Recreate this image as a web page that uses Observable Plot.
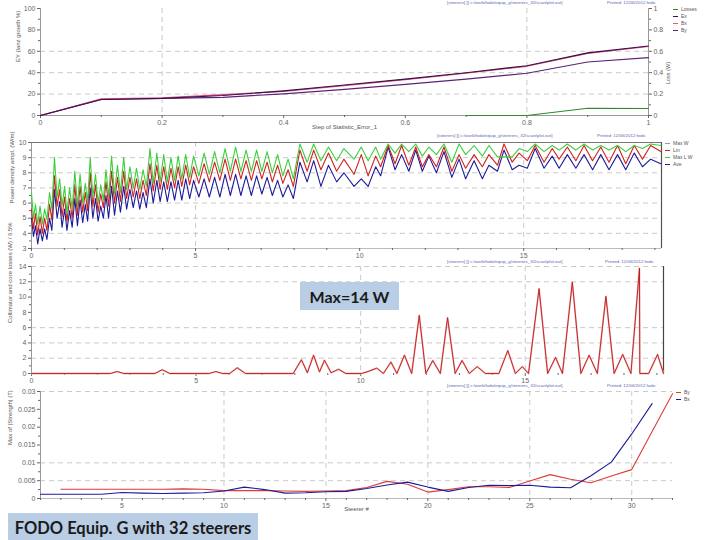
<!DOCTYPE html>
<html><head><meta charset="utf-8">
<script src="https://cdn.jsdelivr.net/npm/d3@7"></script>
<script src="https://cdn.jsdelivr.net/npm/@observablehq/plot@0.6"></script>
<style>
html,body{margin:0;padding:0;background:#fff;}
#c{position:relative;width:720px;height:540px;overflow:hidden;background:#fff;font-family:'Liberation Sans',Arial,sans-serif;}
#c svg{position:absolute;left:0;}
.hdr{position:absolute;font-size:4.4px;color:#5a66b0;white-space:nowrap;line-height:6px;}
.lg{position:absolute;font-size:5px;color:#555;white-space:nowrap;line-height:7px;}
.lg i{display:inline-block;width:5px;height:1.2px;vertical-align:middle;margin-right:3px;}
.box{position:absolute;background:#b9cde5;color:#1a1a1a;font-weight:bold;font-family:Lato,'Liberation Sans',sans-serif;display:flex;align-items:center;justify-content:center;white-space:nowrap;}
</style></head><body><div id="c"></div>
<script>
// ---------- Panel 1 data ----------
const p1X = [0, 0.1, 0.2, 0.3, 0.4, 0.5, 0.6, 0.7, 0.8, 0.9, 1];
const p1Ex = [0, 15, 16, 18.7, 23, 28.5, 34, 40, 46.5, 58.5, 65];
const p1Bx = [0, 15.5, 16.5, 19.5, 22.5, 28, 33.5, 39.5, 46, 58, 64.5];
const p1By = [0, 15, 16, 17, 20.3, 24.5, 29, 34, 39.5, 50, 54];
const p1LossX = [0.7, 0.8, 0.9, 1];
const p1Loss = [0, 0, 0.068, 0.065];
const p1YTicks = [0, 20, 40, 60, 80, 100];
const p1YMinor = [10, 30, 50, 70, 90];
const p1XTicks = [0, 0.2, 0.4, 0.6, 0.8, 1];
const p1XMinor = [0.1, 0.3, 0.5, 0.7, 0.9];
const p1GridY = [20, 40, 60];
const p1GridX = [0.2, 0.8];
const p1Legend = ["Losses", "Ex", "Bx", "By"];

// ---------- Panel 2 data ----------
const p2X = [
 0.00,0.06,0.12,0.19,0.26,0.33,0.40,0.47,0.55,0.62,
 0.70,0.78,0.86,0.93,1.01,1.08,1.16,1.24,1.32,1.40,
 1.48,1.56,1.64,1.71,1.79,1.87,1.95,2.03,2.11,2.19,
 2.27,2.35,2.44,2.53,2.62,2.71,2.81,2.90,3.00,3.10,
 3.20,3.30,3.40,3.50,3.61,3.71,3.82,3.92,4.03,4.14,
 4.25,4.36,4.47,4.58,4.70,4.82,4.94,5.10,5.26,5.42,
 5.58,5.74,5.90,6.06,6.22,6.38,6.54,6.70,6.86,7.02,
 7.18,7.34,7.50,7.66,7.82,7.98,8.18,8.40,8.60,8.82,
 9.05,9.30,9.52,9.83,10.05,10.26,10.49,10.64,10.87,11.08,
 11.28,11.50,11.71,11.91,12.11,12.34,12.57,12.81,13.03,13.23,
 13.49,13.74,13.94,14.20,14.40,14.65,14.86,15.11,15.35,15.62,
 15.87,16.08,16.33,16.59,16.84,17.10,17.35,17.60,17.86,18.11,
 18.37,18.62,18.87,19.18];
const p2MaxLW = [
 6.7,5.0,5.9,4.6,5.8,4.6,5.6,4.9,6.7,5.6,
 9.0,6.4,7.6,5.8,7.1,5.3,7.0,5.6,8.1,5.8,
 7.9,6.0,7.3,6.1,9.0,6.4,7.9,6.0,7.2,6.2,
 8.2,6.4,9.1,6.6,8.5,6.7,9.0,6.9,8.4,7.0,
 8.3,6.9,8.2,7.1,9.6,7.3,9.3,7.4,9.2,7.4,
 9.0,7.5,9.1,7.6,9.2,7.7,9.1,7.8,9.3,7.9,
 9.4,8.0,9.6,8.1,9.7,8.1,9.5,8.1,9.5,8.1,
 9.4,8.0,9.2,7.8,8.9,7.6,9.9,8.7,9.9,8.8,
 9.7,8.8,9.6,8.9,9.7,8.8,9.7,8.9,9.9,9.3,
 9.9,9.4,9.9,9.1,9.7,9.2,9.9,8.7,9.9,9.2,
 9.8,9.1,9.8,9.05,9.05,9.05,9.6,9.4,9.9,9.4,
 9.8,9.5,9.9,9.5,9.9,9.5,9.8,9.5,9.8,9.4,
 9.8,9.6,9.9,9.8];
const p2Lin = [
 5.6,4.3,5.3,3.9,5.1,4.0,5.0,4.2,5.9,4.9,
 7.8,5.8,6.9,5.1,6.4,4.8,6.3,5.0,7.2,5.2,
 7.1,5.4,6.7,5.5,8.0,5.8,7.2,5.4,6.6,5.7,
 7.4,5.8,8.1,6.0,7.7,6.1,8.1,6.3,7.7,6.4,
 7.6,6.3,7.5,6.5,8.6,6.8,8.5,6.9,8.4,6.9,
 8.3,7.0,8.4,7.1,8.5,7.2,8.4,7.3,8.6,7.4,
 8.7,7.5,8.9,7.5,8.9,7.6,8.8,7.5,8.8,7.6,
 8.7,7.4,8.5,7.3,8.2,7.1,9.5,8.1,9.5,8.2,
 9.3,8.1,8.9,7.9,9.2,7.8,9.1,8.4,9.8,8.6,
 9.8,8.5,9.7,8.4,9.2,8.4,9.7,8.1,9.2,8.3,
 9.2,8.4,9.2,8.5,9.9,8.7,9.3,8.8,9.8,8.7,
 9.6,8.9,9.7,8.8,9.8,8.8,9.7,8.7,9.8,8.6,
 9.8,8.9,9.8,9.4];
const p2Ave = [
 5.0,3.8,4.5,3.3,4.3,3.5,4.3,3.6,5.0,4.2,
 6.9,5.0,6.1,4.4,5.6,4.2,5.5,4.4,6.3,4.5,
 6.2,4.7,5.9,4.8,7.0,5.0,6.3,4.8,5.8,5.0,
 6.5,5.0,7.1,5.2,6.8,5.4,7.1,5.6,6.9,5.7,
 6.8,5.6,6.7,5.7,7.6,6.0,7.5,6.1,7.4,6.1,
 7.4,6.2,7.5,6.2,7.6,6.3,7.5,6.4,7.6,6.4,
 7.7,6.4,7.9,6.5,7.9,6.5,7.8,6.5,7.8,6.6,
 7.7,6.5,7.5,6.4,7.2,6.3,8.7,7.4,8.8,7.1,
 8.5,7.4,8.0,7.1,7.6,7.1,8.4,7.8,9.7,8.2,
 9.2,8.1,9.5,8.1,9.1,8.0,9.4,7.7,8.9,7.6,
 8.8,7.6,8.5,8.1,9.5,8.2,8.5,8.3,9.6,8.3,
 9.1,8.3,9.2,8.3,9.2,8.2,9.2,8.2,9.2,8.2,
 9.3,8.4,8.9,8.6];
const p2YTicks = [3, 4, 5, 6, 7, 8, 9, 10];
const p2YMinor = [3.5, 4.5, 5.5, 6.5, 7.5, 8.5, 9.5];
const p2XTicks = [0, 5, 10, 15];
const p2XMinor = [1, 2, 3, 4, 6, 7, 8, 9, 11, 12, 13, 14, 16, 17, 18, 19];
const p2GridY = [4, 5, 6, 7, 8, 9];
const p2GridX = [5, 15];
const p2Legend = ["Max W", "Lin", "Max L W", "Ave"];

// ---------- Panel 3 data ----------
const p3X = [0,2.4,2.6,2.8,3.75,3.97,4.2,5.4,5.6,5.8,6.02,6.25,6.5,
 7.95,8.2,8.38,8.57,8.75,8.9,9.1,9.33,9.55,
 10.03,10.25,10.49,10.69,10.92,11.10,11.33,11.55,11.78,11.98,
 12.19,12.42,12.64,12.87,13.08,13.30,13.54,13.79,
 14.2,14.47,14.70,14.91,15.10,15.42,15.68,15.92,16.13,16.43,
 16.69,16.94,17.19,17.45,17.70,17.96,18.21,18.47,18.48,18.75,
 19.02,19.2];
const p3Loss = [0,0,0.26,0,0,0.5,0,0,0.26,0,0,0.75,0,
 0,1.8,0.1,2.4,0.2,1.75,0.1,0.55,0,
 0,0.3,0.7,0,1.5,0,2.4,0,7.6,0,
 1.7,0,7.3,0,1.7,0,0.9,0,
 0,3.0,0,0.9,0,11.1,0,2.1,0,11.95,
 0,2.4,0,10.1,0,2.5,0,13.8,0,0,
 2.5,0];
const p3YTicks = [0, 2, 4, 6, 8, 10, 12, 14];
const p3YMinor = [1, 3, 5, 7, 9, 11, 13];
const p3GridY = [2, 4, 6, 12, 14];
const p3GridX = [10, 15];

// ---------- Panel 4 data ----------
const p4Steerer = [1,2,3,4,5,6,7,8,9,10,11,12,13,14,15,16,17,18,19,20,21,22,23,24,25,26,27,28,29,30,31,32];
const p4By = [null,0.0026,0.0026,0.0026,0.0026,0.0026,0.0026,0.0027,0.0026,0.0022,0.0022,0.0022,0.0021,0.0020,0.0021,0.0022,
 0.0031,0.0048,0.0040,0.0018,0.0025,0.0033,0.0033,0.0031,0.0049,0.0067,0.0054,0.0044,0.0063,0.0081,0.0188,0.0294];
const p4Bx = [0.0012,0.0012,0.0012,0.0012,0.0017,0.0015,0.0014,0.0015,0.0016,0.0021,0.0032,0.0025,0.0015,0.0016,0.0019,0.0020,
 0.0028,0.0038,0.0046,0.0032,0.0020,0.0031,0.0037,0.0036,0.0037,0.0032,0.0030,0.0064,0.0102,0.0181,0.0266,null];
const p4YTicks = [0, 0.005, 0.01, 0.015, 0.02, 0.025, 0.03];
const p4YMinor = [0.0025, 0.0075, 0.0125, 0.0175, 0.0225, 0.0275];
const p4XTicks = [5, 10, 15, 20, 25, 30];
const p4XMinor = [1,2,3,4,6,7,8,9,11,12,13,14,16,17,18,19,21,22,23,24,26,27,28,29,31,32];
const p4GridY = [0.005, 0.01, 0.03];
const p4GridX = [10, 15, 20, 25, 30];
const p4Legend = ["By", "Bx"];

// ---------- texts ----------
const hdrA = "[steerers] [] c:/work/fodo/equip_g/steerers_32/scan/plot.out]";
const hdrB = "Printed: 12/06/2012 fodo";
const caption = "FODO Equip. G with 32 steerers";
const maxNote = "Max=14 W";

// ---------- helpers ----------
const c = document.getElementById("c");
const FONT = "'Liberation Sans', Arial, sans-serif";
const STYLE = {background: "transparent", fontSize: "7px", fontFamily: FONT, color: "#666", overflow: "visible"};
const GRID = {stroke: "#bdbdbd", strokeOpacity: 1, strokeWidth: 0.8, strokeDasharray: "5,4"};
const AX = {color: "#666", tickSize: 3, tickPadding: 2, fontSize: 7, label: null};
const blank = () => "";
const fmt = d => String(+d.toFixed(4));
function rows(xs, ys) { return xs.map((x, i) => ({x, y: ys[i]})).filter(d => d.y != null); }
function put(svg, top) { svg.style.top = top + "px"; c.appendChild(svg); }
function lab(text, o) { return Plot.text([text], {text: d => d, fontSize: 6, fill: "#555", ...o}); }
function div(cls, css, html) { const d = document.createElement("div"); d.className = cls; Object.assign(d.style, css); d.innerHTML = html; c.appendChild(d); return d; }
function legend(x, y, names, colors) {
  names.forEach((n, i) => div("lg", {left: x + "px", top: (y + i * 7) + "px"}, `<i style="background:${colors[i]}"></i>${n}`));
}
function headers(y, xa, xb) {
  div("hdr", {left: xa + "px", top: y + "px"}, hdrA);
  div("hdr", {left: xb + "px", top: y + "px"}, hdrB);
}

// ---------- Panel 1 ----------
put(Plot.plot({
  width: 720, height: 140, marginTop: 8, marginBottom: 25, marginLeft: 40, marginRight: 72,
  style: STYLE, x: {domain: [0, 1]}, y: {domain: [0, 100]},
  marks: [
    Plot.gridY(p1GridY, GRID), Plot.gridX(p1GridX, GRID),
    Plot.ruleX([0], {stroke: "#999"}), Plot.ruleX([1], {stroke: "#999"}), Plot.ruleY([0], {stroke: "#999"}),
    Plot.axisY(p1YTicks, {...AX, anchor: "left"}),
    Plot.axisY(p1YMinor, {...AX, anchor: "left", tickSize: 2, tickFormat: blank}),
    Plot.axisY(p1YTicks, {...AX, anchor: "right", tickFormat: d => String(d / 100)}),
    Plot.axisY(p1YMinor, {...AX, anchor: "right", tickSize: 2, tickFormat: blank}),
    Plot.axisX(p1XTicks, {...AX, tickFormat: fmt}),
    Plot.axisX(p1XMinor, {...AX, tickSize: 2, tickFormat: blank}),
    Plot.line(rows(p1LossX, p1Loss.map(v => v * 100)), {x: "x", y: "y", stroke: "#2e8a2e", strokeWidth: 1.1}),
    Plot.line(rows(p1X, p1By), {x: "x", y: "y", stroke: "#5a2378", strokeWidth: 1.2}),
    Plot.line(rows(p1X, p1Bx), {x: "x", y: "y", stroke: "#e8508a", strokeWidth: 1.2}),
    Plot.line(rows(p1X, p1Ex), {x: "x", y: "y", stroke: "#3a1048", strokeWidth: 1.1}),
    lab("EY (lanz growth %)", {frameAnchor: "left", rotate: -90, dx: -22}),
    lab("Loss (W)", {frameAnchor: "right", rotate: -90, dx: 20, fontSize: 5.5}),
    lab("Step of Statistic_Error_1", {frameAnchor: "bottom", dy: 13})
  ]
}), 0);

// ---------- Panel 2 ----------
put(Plot.plot({
  width: 720, height: 138, marginTop: 12, marginBottom: 20, marginLeft: 31, marginRight: 59,
  style: STYLE, x: {domain: [0, 19.2]}, y: {domain: [3, 10]},
  marks: [
    Plot.gridY(p2GridY, GRID), Plot.gridX(p2GridX, GRID),
    Plot.ruleX([0], {stroke: "#999"}), Plot.ruleY([3], {stroke: "#bbb"}),
    Plot.ruleY([10], {stroke: "#777", strokeWidth: 1.2}), Plot.ruleX([19.2], {stroke: "#555", strokeWidth: 1.2}),
    Plot.axisY(p2YTicks, {...AX, anchor: "left"}),
    Plot.axisY(p2YMinor, {...AX, anchor: "left", tickSize: 2, tickFormat: blank}),
    Plot.axisX(p2XTicks, {...AX}),
    Plot.axisX(p2XMinor, {...AX, tickSize: 2, tickFormat: blank}),
    Plot.line(rows(p2X, p2Ave), {x: "x", y: "y", stroke: "#1c1c9a", strokeWidth: 1.1}),
    Plot.line(rows(p2X, p2Lin), {x: "x", y: "y", stroke: "#d02020", strokeWidth: 1.1}),
    Plot.line(rows(p2X, p2MaxLW), {x: "x", y: "y", stroke: "#3ccf3c", strokeWidth: 1.1}),
    lab("Power density ampl. (W/m)", {frameAnchor: "left", rotate: -90, dx: -19, dy: 8})
  ]
}), 130);

// ---------- Panel 3 ----------
put(Plot.plot({
  width: 720, height: 137, marginTop: 10, marginBottom: 20, marginLeft: 31, marginRight: 57,
  style: STYLE, x: {domain: [0, 19.2]}, y: {domain: [0, 14]},
  marks: [
    Plot.gridY(p3GridY, GRID), Plot.gridX(p3GridX, GRID),
    Plot.ruleX([0], {stroke: "#999"}), Plot.ruleX([19.2], {stroke: "#444", strokeWidth: 1.2}),
    Plot.axisY(p3YTicks, {...AX, anchor: "left"}),
    Plot.axisY(p3YMinor, {...AX, anchor: "left", tickSize: 2, tickFormat: blank}),
    Plot.axisX(p2XTicks, {...AX}),
    Plot.axisX(p2XMinor, {...AX, tickSize: 2, tickFormat: blank}),
    Plot.line(rows(p3X, p3Loss), {x: "x", y: "y", stroke: "#f6b8b8", strokeWidth: 1.8}),
    Plot.line(rows(p3X, p3Loss), {x: "x", y: "y", stroke: "#b81818", strokeWidth: 0.9}),
    lab("Collimator and core losses (W) / 6.5%", {frameAnchor: "left", rotate: -90, dx: -21, dy: 3})
  ]
}), 256);

// ---------- Panel 4 ----------
put(Plot.plot({
  width: 720, height: 137, marginTop: 10, marginBottom: 20, marginLeft: 40, marginRight: 48,
  style: STYLE, x: {domain: [1, 32]}, y: {domain: [0, 0.03]},
  marks: [
    Plot.gridY(p4GridY, GRID), Plot.gridX(p4GridX, GRID),
    Plot.ruleX([1], {stroke: "#999"}), Plot.ruleY([0], {stroke: "#bbb"}),
    Plot.axisY(p4YTicks, {...AX, anchor: "left", tickFormat: fmt}),
    Plot.axisY(p4YMinor, {...AX, anchor: "left", tickSize: 2, tickFormat: blank}),
    Plot.axisX(p4XTicks, {...AX}),
    Plot.axisX(p4XMinor, {...AX, tickSize: 2, tickFormat: blank}),
    Plot.line(rows(p4Steerer, p4By), {x: "x", y: "y", stroke: "#e03a3a", strokeWidth: 1.1}),
    Plot.line(rows(p4Steerer, p4Bx), {x: "x", y: "y", stroke: "#1c1c9a", strokeWidth: 1.1}),
    lab("Max of |Strength| (T)", {frameAnchor: "left", rotate: -90, dx: -30}),
    lab("Steerer #", {frameAnchor: "bottom", dy: 12})
  ]
}), 381);

// ---------- legends, headers, boxes ----------
legend(673, 6, p1Legend, ["#2e8a2e", "#3a1048", "#e8508a", "#5a2378"]);
legend(665, 140, p2Legend, ["#8899cc", "#d02020", "#3ccf3c", "#1c1c9a"]);
legend(676, 389, p4Legend, ["#e03a3a", "#1c1c9a"]);
headers(0, 447, 607);
headers(133, 437, 597);
headers(259, 447, 605);
headers(383, 447, 607);
div("box", {left: "300px", top: "282px", width: "99px", height: "28px", fontSize: "16px"}, maxNote);
div("box", {left: "8px", top: "513px", width: "250px", height: "29px", fontSize: "16.5px"}, caption);
</script></body></html>
